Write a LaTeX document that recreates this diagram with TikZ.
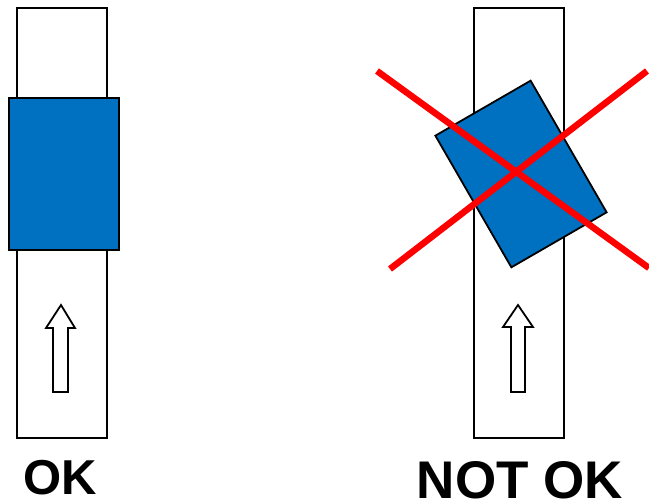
\documentclass[tikz,border=0pt]{standalone}
\usepackage{fontspec}
\setmainfont{Liberation Sans}
\usepackage{tikz}
\usetikzlibrary{positioning}
\definecolor{tapeblue}{RGB}{0,112,192}
\definecolor{crossred}{RGB}{255,0,0}

\begin{document}
\begin{tikzpicture}[
    x=1pt, y=-1pt,
    strip/.style={rectangle, draw=black, line width=1.8pt, fill=white, minimum width=90pt, minimum height=430pt, inner sep=0pt},
    tape/.style={rectangle, draw=black, line width=1.8pt, fill=tapeblue, minimum width=110pt, minimum height=152pt, inner sep=0pt},
    hollowarrow/.style={draw=black, line width=1.8pt, fill=white},
    cross/.style={crossred, line width=6.5pt},
    caption/.style={font=\bfseries, inner sep=0pt, anchor=base}
]
\useasboundingbox (0,0) rectangle (649,504);

% Left: correct
\node (leftstrip) [strip] at (62,223) {};
\node (lefttape) [tape] at (64,174) {};
\coordinate (lefttip) at (61,305);
\draw [hollowarrow] (lefttip) -- ++(14,23) -- ++(-7,0) -- ++(0,64) -- ++(-15,0) -- ++(0,-64) -- ++(-7,0) -- cycle;
\node (ok) [caption, font=\fontsize{49}{49}\selectfont\bfseries] at (60,494) {OK};

% Right: wrong
\node (rightstrip) [strip] at (519,223) {};
\node (righttape) [tape, rotate=30] at (521,174) {};
\coordinate (righttip) at (518,305);
\draw [hollowarrow] (righttip) -- ++(15,22) -- ++(-8,0) -- ++(0,65) -- ++(-14,0) -- ++(0,-65) -- ++(-8,0) -- cycle;
\coordinate (crossA) at (377,71);
\coordinate (crossB) at (649,268);
\coordinate (crossC) at (390,269);
\coordinate (crossD) at (647,71);
\draw [cross] (crossA) -- (crossB);
\draw [cross] (crossC) -- (crossD);
\node (notok) [caption, font=\fontsize{53}{53}\selectfont\bfseries] at (520,498) {NOT OK};

\end{tikzpicture}
\end{document}
